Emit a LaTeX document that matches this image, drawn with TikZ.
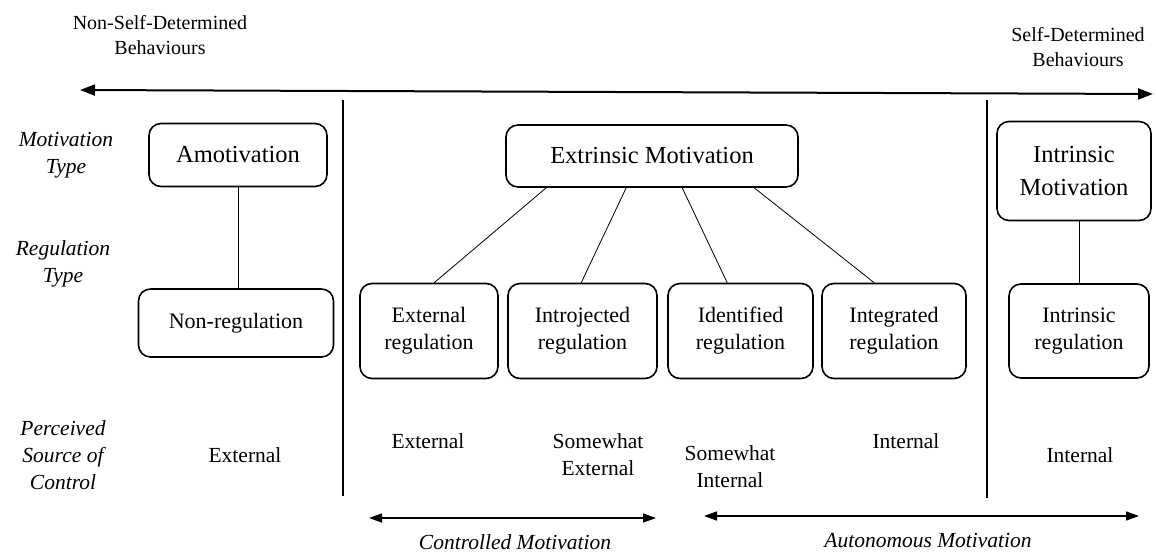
\documentclass[tikz,border=0pt]{standalone}
\usepackage{fontspec}
\setmainfont{Liberation Serif}
\usetikzlibrary{arrows.meta,calc}
\begin{document}
\begin{tikzpicture}[x=1pt,y=-1pt,
  box/.style={draw,line width=1.6pt,rounded corners=12pt,align=center,inner sep=0pt},
  bigtxt/.style={font=\fontsize{24.5}{33}\selectfont},
  normtxt/.style={font=\fontsize{22}{27}\selectfont},
  lbl/.style={align=center,font=\fontsize{21.5}{27}\selectfont\itshape},
  txt/.style={align=center,font=\fontsize{21.5}{27}\selectfont},
  toptxt/.style={align=center,font=\fontsize{20}{25.5}\selectfont},
  link/.style={line width=0.8pt},
  sepline/.style={line width=1.1pt},
  mainarrow/.style={line width=2pt,{Triangle[length=15pt,width=11pt]}-{Triangle[length=15pt,width=11pt]}},
  dblarrow/.style={line width=1.5pt,{Triangle[length=13pt,width=9pt]}-{Triangle[length=13pt,width=9pt]}},
]
\useasboundingbox (0,0) rectangle (1156,552);

% top labels and main arrow
\node[toptxt] (nsd) at (160,35) {Non-Self-Determined\\Behaviours};
\node[toptxt] (sd) at (1078,47) {Self-Determined\\Behaviours};
\coordinate (aL) at (80,90);
\coordinate (aR) at (1153,94);
\draw[mainarrow] (aL) -- (aR);

% separators
\coordinate (s1t) at (343,100);
\coordinate (s1b) at (343,496);
\coordinate (s2t) at (987,100);
\coordinate (s2b) at (987,498);
\draw[sepline] (s1t) -- (s1b);
\draw[sepline] (s2t) -- (s2b);

% row labels
\node[lbl] (motl) at (66,155) {Motivation\\Type};
\node[lbl] (regl) at (63,264) {Regulation\\Type};
\node[lbl] (psc) at (63,455) {Perceived\\Source of\\Control};

% motivation boxes
\node[box,bigtxt,minimum width=178pt,minimum height=63pt] (amot) at (238,155) {Amotivation};
\node[box,bigtxt,minimum width=292pt,minimum height=62pt] (em) at (652,156) {Extrinsic Motivation};
\node[box,bigtxt,minimum width=154pt,minimum height=99pt] (im) at (1074,171) {Intrinsic\\Motivation};

% regulation boxes
\node[box,normtxt,minimum width=195pt,minimum height=68pt] (nonreg) at (236,323) {Non-regulation};
\node[box,normtxt,minimum width=138pt,minimum height=95pt] (extr) at (429,331) {External\\regulation};
\node[box,normtxt,minimum width=149pt,minimum height=95pt] (intro) at (582.5,331) {Introjected\\regulation};
\node[box,normtxt,minimum width=145pt,minimum height=95pt] (iden) at (740.5,331) {Identified\\regulation};
\node[box,normtxt,minimum width=144pt,minimum height=95pt] (integ) at (894,331) {Integrated\\regulation};
\node[box,normtxt,minimum width=140pt,minimum height=94pt] (intr) at (1079,331) {Intrinsic\\regulation};

% connectors
\draw[link] (amot.south) -- (amot.south |- nonreg.north);
\draw[link] (intr.north) -- (intr.north |- im.south);
\draw[link] ($(em.south west)+(41,0)$) -- ($(extr.north west)+(75,0)$);
\draw[link] ($(em.south west)+(121,0)$) -- ($(intro.north west)+(74,0)$);
\draw[link] ($(em.south west)+(177,0)$) -- ($(iden.north west)+(60,0)$);
\draw[link] ($(em.south west)+(249,0)$) -- ($(integ.north west)+(53,0)$);

% perceived source of control
\node[txt] (c1) at (245,455) {External};
\node[txt] (c2) at (428,441) {External};
\node[txt] (c3) at (598,455) {Somewhat\\External};
\node[txt] (c4) at (730,467) {Somewhat\\Internal};
\node[txt] (c5) at (906,441) {Internal};
\node[txt] (c6) at (1080,455) {Internal};

% bottom arrows
\coordinate (cL) at (369,518);
\coordinate (cR) at (656,518);
\draw[dblarrow] (cL) -- (cR);
\node[lbl] (ctl) at (515,542) {Controlled Motivation};
\coordinate (auL) at (704,516);
\coordinate (auR) at (1139,516);
\draw[dblarrow] (auL) -- (auR);
\node[lbl] (aut) at (928,540) {Autonomous Motivation};
\end{tikzpicture}
\end{document}
